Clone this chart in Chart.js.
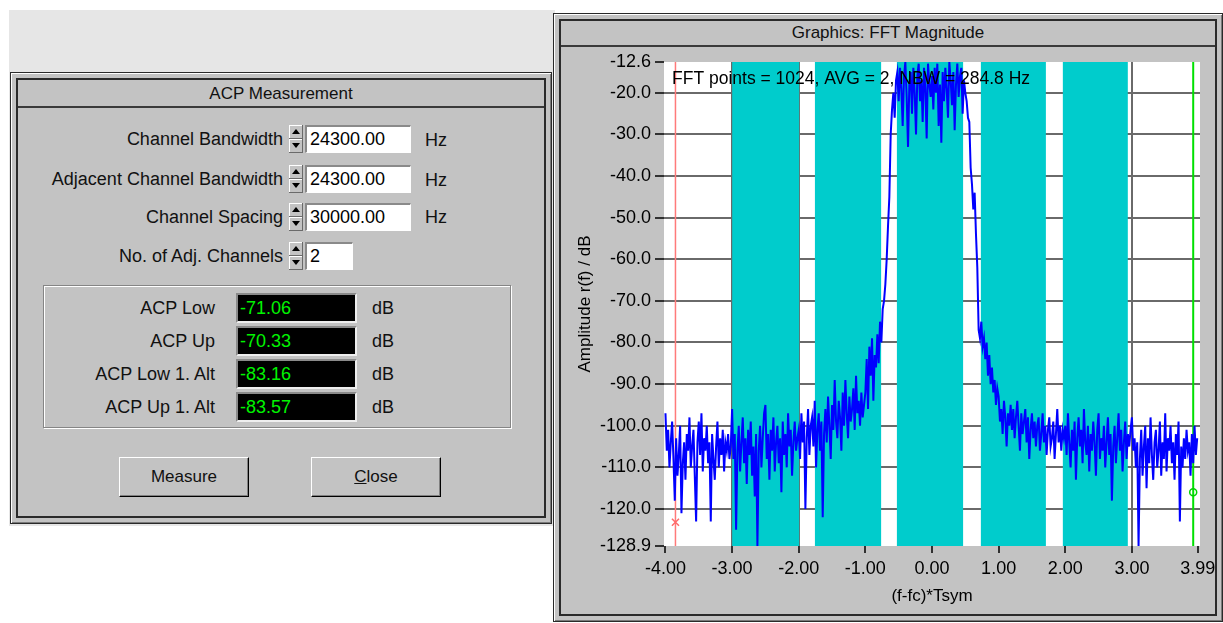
<!DOCTYPE html>
<html>
<head>
<meta charset="utf-8">
<script src="https://cdn.jsdelivr.net/npm/chart.js@4.4.1/dist/chart.umd.min.js"></script>
<style>
  body { margin: 0; width: 1223px; height: 623px; background: #fff; overflow: hidden; position: relative;
         font-family: "Liberation Sans", Arial, sans-serif; font-size: 18px; color: #111; }
  .abs { position: absolute; }
  .backdrop { left: 9px; top: 10px; width: 546px; height: 516px; background: #e6e6e6; }
  .win { position: absolute; box-sizing: border-box; background: #c3c3c3; border: 1px solid #2a2a2a;
         box-shadow: inset 1px 1px 0 #fff, inset -1px -1px 0 #7a7a7a; }
  .frame { position: absolute; left: 5px; top: 5px; right: 5px; bottom: 5px; border: 2px solid #2a2a2a; }
  .cap { position: absolute; left: 0; right: 0; top: 0; height: 24px; line-height: 24px; text-align: center;
         border-bottom: 2px solid #3a3a3a; font-size: 17px; }
  .lbl { position: absolute; height: 20px; line-height: 20px; text-align: right; white-space: nowrap; }
  .txt { position: absolute; height: 20px; line-height: 20px; white-space: nowrap; }
  .spin { position: absolute; width: 14px; height: 28px; }
  .spin div { position: absolute; left: 0; width: 14px; height: 14px; background: #c3c3c3;
              box-shadow: inset -1px -1px 0 #6a6a6a, inset 1px 1px 0 #fff; }
  .spin .up { top: 0; }
  .spin .dn { top: 14px; }
  .spin .up::after { content: ''; position: absolute; left: 3px; top: 4px; border-left: 4px solid transparent;
                     border-right: 4px solid transparent; border-bottom: 5px solid #000; }
  .spin .dn::after { content: ''; position: absolute; left: 3px; top: 4px; border-left: 4px solid transparent;
                     border-right: 4px solid transparent; border-top: 5px solid #000; }
  .edit { position: absolute; height: 28px; box-sizing: border-box; background: #fff; padding-left: 3px;
          border-top: 2px solid #8a8a8a; border-left: 2px solid #8a8a8a; border-right: 1px solid #fff;
          border-bottom: 1px solid #fff; line-height: 25px; color: #000; }
  .group { position: absolute; box-sizing: border-box; border: 1px solid #858585; box-shadow: 1px 1px 0 #fff, inset 1px 1px 0 #fff; }
  .lcd { position: absolute; height: 30px; width: 121px; box-sizing: border-box; background: #000; color: #00f400;
         border-top: 2px solid #8a8a8a; border-left: 2px solid #8a8a8a; border-right: 2px solid #eee;
         border-bottom: 2px solid #eee; padding-left: 2px; line-height: 26px; }
  .btn { position: absolute; width: 130px; height: 40px; box-sizing: border-box; background: #c3c3c3;
         border-top: 1px solid #fff; border-left: 1px solid #fff; border-right: 1px solid #000; border-bottom: 1px solid #000;
         box-shadow: inset -1px -1px 0 #808080; text-align: center; line-height: 38px; font-size: 17px; }
  #fft { position: absolute; left: 560px; top: 47px; }
</style>
</head>
<body>
<div class="abs backdrop"></div>

<!-- ACP dialog -->
<div class="win" style="left:10px; top:72px; width:542px; height:452px;">
  <div class="frame"><div class="cap" style="height:26px; line-height:28px;">ACP Measurement</div></div>
</div>

<div class="lbl" style="left:0; width:283px; top:129px;">Channel Bandwidth</div>
<div class="spin" style="left:289px; top:125px;"><div class="up"></div><div class="dn"></div></div>
<div class="edit" style="left:305px; top:125px; width:106px;">24300.00</div>
<div class="txt" style="left:425px; top:130px;">Hz</div>

<div class="lbl" style="left:0; width:283px; top:169px;">Adjacent Channel Bandwidth</div>
<div class="spin" style="left:289px; top:165px;"><div class="up"></div><div class="dn"></div></div>
<div class="edit" style="left:305px; top:165px; width:106px;">24300.00</div>
<div class="txt" style="left:425px; top:170px;">Hz</div>

<div class="lbl" style="left:0; width:283px; top:207px;">Channel Spacing</div>
<div class="spin" style="left:289px; top:203px;"><div class="up"></div><div class="dn"></div></div>
<div class="edit" style="left:305px; top:203px; width:106px;">30000.00</div>
<div class="txt" style="left:425px; top:207px;">Hz</div>

<div class="lbl" style="left:0; width:283px; top:246px;">No. of Adj. Channels</div>
<div class="spin" style="left:289px; top:242px;"><div class="up"></div><div class="dn"></div></div>
<div class="edit" style="left:305px; top:242px; width:48px;">2</div>

<div class="group" style="left:43px; top:285px; width:468px; height:143px;"></div>

<div class="lbl" style="left:0; width:215px; top:298px;">ACP Low</div>
<div class="lcd" style="left:236px; top:293px;">-71.06</div>
<div class="txt" style="left:372px; top:298px;">dB</div>

<div class="lbl" style="left:0; width:215px; top:331px;">ACP Up</div>
<div class="lcd" style="left:236px; top:326px;">-70.33</div>
<div class="txt" style="left:372px; top:331px;">dB</div>

<div class="lbl" style="left:0; width:215px; top:364px;">ACP Low 1. Alt</div>
<div class="lcd" style="left:236px; top:359px;">-83.16</div>
<div class="txt" style="left:372px; top:364px;">dB</div>

<div class="lbl" style="left:0; width:215px; top:397px;">ACP Up 1. Alt</div>
<div class="lcd" style="left:236px; top:392px;">-83.57</div>
<div class="txt" style="left:372px; top:397px;">dB</div>

<div class="btn" style="left:119px; top:457px;">Measure</div>
<div class="btn" style="left:311px; top:457px;"><u>C</u>lose</div>

<!-- graphics window -->
<div class="win" style="left:553px; top:13px; width:670px; height:609px;">
  <div class="frame"><div class="cap">Graphics: FFT Magnitude</div></div>
</div>
<canvas id="fft" width="656" height="565"></canvas>

<script>
const xTickValues = [-4, -3, -2, -1, 0, 1, 2, 3, 3.99];
const yTickValues = [-12.6, -20, -30, -40, -50, -60, -70, -80, -90, -100, -110, -120, -128.9];

// FFT bins: start frequency and bin spacing in (f-fc)*Tsym
const freqStart = -4.0;
const freqStep = 0.02;

// magnitude in dB, one value per bin
const magnitudeDb = [
  // -4.00 .. -3.02
  -97, -106, -101, -110, -104, -99, -108, -118, -103, -112,
  -107, -100, -121, -109, -104, -113, -102, -106, -98, -110,
  -105, -101, -112, -123, -104, -99, -107, -97, -111, -103,
  -106, -100, -109, -104, -123, -102, -108, -113, -105, -99,
  -110, -103, -107, -101, -111, -104, -106, -102, -108, -105,
  // -3.00 .. -2.02
  -96, -108, -102, -125, -106, -100, -111, -104, -98, -109,
  -103, -114, -101, -107, -99, -112, -105, -117, -102, -128.9,
  -106, -100, -110, -103, -97, -95, -108, -102, -113, -101,
  -106, -98, -111, -104, -100, -109, -103, -116, -99, -107,
  -102, -110, -97, -105, -101, -112, -104, -99, -106, -103,
  // -2.00 .. -1.02
  -101, -108, -97, -104, -99, -120, -103, -96, -107, -100,
  -98, -105, -94, -110, -101, -97, -106, -99, -122, -102,
  -96, -104, -93, -100, -108, -95, -101, -89, -99, -103,
  -94, -98, -106, -92, -100, -89, -97, -103, -93, -99,
  -96, -91, -101, -88, -97, -94, -100, -92, -98, -95,
  // -1.00 .. -0.02
  -92, -84, -96, -81, -88, -79, -94, -83, -86, -78,
  -85, -75, -80, -72, -70, -66, -60, -52, -45, -30,
  -24, -20, -26, -17, -15, -22, -14, -19, -28, -16,
  -12.6, -21, -33, -18, -15, -25, -14, -20, -30, -16,
  -13, -22, -17, -27, -14, -19, -31, -13, -18, -21,
  // 0.00 .. 0.98
  -16, -24, -14, -20, -13, -28, -18, -32, -15, -22,
  -14, -19, -26, -12.6, -17, -23, -15, -29, -18, -13,
  -21, -16, -14, -25, -17, -20, -22, -26, -27, -38,
  -42, -48, -44, -54, -62, -77, -79, -75, -81, -79,
  -84, -80, -88, -83, -90, -86, -92, -89, -95, -91,
  // 1.00 .. 1.98
  -93, -99, -96, -102, -94, -98, -105, -97, -100, -95,
  -101, -96, -103, -98, -94, -100, -106, -97, -102, -99,
  -96, -104, -98, -108, -101, -97, -103, -99, -105, -100,
  -98, -106, -102, -97, -104, -100, -107, -101, -98, -105,
  -103, -99, -108, -102, -96, -104, -100, -106, -101, -103,
  // 2.00 .. 2.98
  -100, -107, -97, -104, -110, -101, -106, -99, -113, -103,
  -98, -105, -101, -109, -96, -104, -107, -100, -111, -102,
  -106, -99, -104, -112, -101, -97, -108, -103, -106, -100,
  -110, -104, -98, -107, -102, -118, -105, -100, -109, -103,
  -97, -106, -101, -111, -104, -99, -108, -102, -105, -101,
  // 3.00 .. 3.98
  -98, -106, -103, -110, -104, -128.9, -108, -101, -112, -105,
  -100, -115, -103, -109, -98, -107, -113, -104, -101, -110,
  -106, -99, -112, -104, -108, -97, -111, -103, -106, -100,
  -109, -104, -113, -102, -107, -99, -123, -105, -110, -103,
  -108, -101, -106, -104, -112, -102, -109, -100, -107, -103
];

// channel / adjacent channel bands [from, to]
const channelBands = [[-3.0, -1.99], [-1.76, -0.76], [-0.53, 0.47], [0.73, 1.71], [1.96, 2.94]];

const lowMarker = { x: -3.85, y: -123.2 };
const highMarker = { x: 3.92, y: -116.0 };

const Y_MIN = -128.9, Y_MAX = -12.6;

Chart.defaults.font.family = '"Liberation Sans", Arial, sans-serif';
Chart.defaults.font.size = 17;
Chart.defaults.color = '#000';

const plotBackground = {
  id: 'plotBackground',
  beforeDraw(chart) {
    const { ctx, chartArea: a } = chart;
    ctx.save();
    ctx.fillStyle = '#fff';
    ctx.fillRect(a.left, a.top, a.right - a.left, a.bottom - a.top);
    ctx.restore();
  }
};

const infoText = {
  id: 'infoText',
  afterDatasetsDraw(chart) {
    const { ctx, chartArea: a } = chart;
    ctx.save();
    ctx.font = '17.5px "Liberation Sans", Arial, sans-serif';
    ctx.fillStyle = '#000';
    ctx.textBaseline = 'middle';
    ctx.fillText('FFT points = 1024, AVG = 2, NBW = 284.8 Hz', a.left + 8, a.top + 17);
    ctx.restore();
  }
};

const bandSets = channelBands.map(b => ({
  data: [{ x: b[0], y: Y_MAX }, { x: b[1], y: Y_MAX }],
  fill: 'start',
  backgroundColor: '#00cccc',
  borderWidth: 0,
  pointRadius: 0,
  order: 10
}));

const trace = magnitudeDb.map((v, i) => ({ x: +(freqStart + i * freqStep).toFixed(2), y: v }));

new Chart(document.getElementById('fft'), {
  type: 'line',
  data: {
    datasets: [
      ...bandSets,
      {
        data: [{ x: lowMarker.x, y: Y_MIN }, { x: lowMarker.x, y: Y_MAX }],
        borderColor: '#ff7a7a', borderWidth: 1.5, pointRadius: 0, order: 5
      },
      {
        data: [{ x: highMarker.x, y: Y_MIN }, { x: highMarker.x, y: Y_MAX }],
        borderColor: '#00e000', borderWidth: 2, pointRadius: 0, order: 5
      },
      {
        data: trace,
        borderColor: '#0000ff', borderWidth: 2, pointRadius: 0, tension: 0, order: 2
      },
      {
        data: [lowMarker],
        showLine: false, pointStyle: 'crossRot', pointRadius: 5,
        pointBorderColor: '#ff6a6a', pointBorderWidth: 1.5, order: 1
      },
      {
        data: [highMarker],
        showLine: false, pointStyle: 'circle', pointRadius: 3.5,
        pointBorderColor: '#00d000', pointBackgroundColor: 'rgba(0,0,0,0)', pointBorderWidth: 1.5, order: 1
      }
    ]
  },
  options: {
    responsive: false,
    animation: false,
    devicePixelRatio: 1,
    layout: { padding: { left: 0, top: 15, right: 0, bottom: 0 } },
    plugins: { legend: { display: false }, tooltip: { enabled: false } },
    scales: {
      x: {
        type: 'linear',
        min: -4.022,
        max: 4.022,
        afterBuildTicks: axis => { axis.ticks = xTickValues.map(v => ({ value: v })); },
        afterFit: axis => { axis.height = 66; axis.paddingLeft = 0; axis.paddingRight = 16; },
        ticks: { callback: v => v.toFixed(2), padding: 5, maxRotation: 0, autoSkip: false, font: { size: 18 } },
        grid: {
          color: c => (c.tick && Math.abs(c.tick.value) <= 3 ? '#6a6a6a' : 'rgba(0,0,0,0)'),
          lineWidth: 2, tickColor: '#000', tickWidth: 1.5, tickLength: 7
        },
        border: { display: false },
        title: { display: true, text: '(f-fc)*Tsym', padding: { top: 0, bottom: 5 } }
      },
      y: {
        type: 'linear',
        min: Y_MIN,
        max: Y_MAX,
        afterBuildTicks: axis => { axis.ticks = yTickValues.map(v => ({ value: v })); },
        afterFit: axis => { axis.width = 104; },
        ticks: { callback: v => v.toFixed(1), padding: 4, autoSkip: false, font: { size: 18 } },
        grid: {
          color: c => (c.tick && c.tick.value > -128 && c.tick.value < -13 ? '#6a6a6a' : 'rgba(0,0,0,0)'),
          lineWidth: 2, tickColor: '#000', tickWidth: 1.5, tickLength: 9
        },
        border: { display: false },
        title: { display: true, text: 'Amplitude r(f) / dB', padding: { top: 15, bottom: 0 } }
      }
    }
  },
  plugins: [plotBackground, infoText]
});
</script>
</body>
</html>
